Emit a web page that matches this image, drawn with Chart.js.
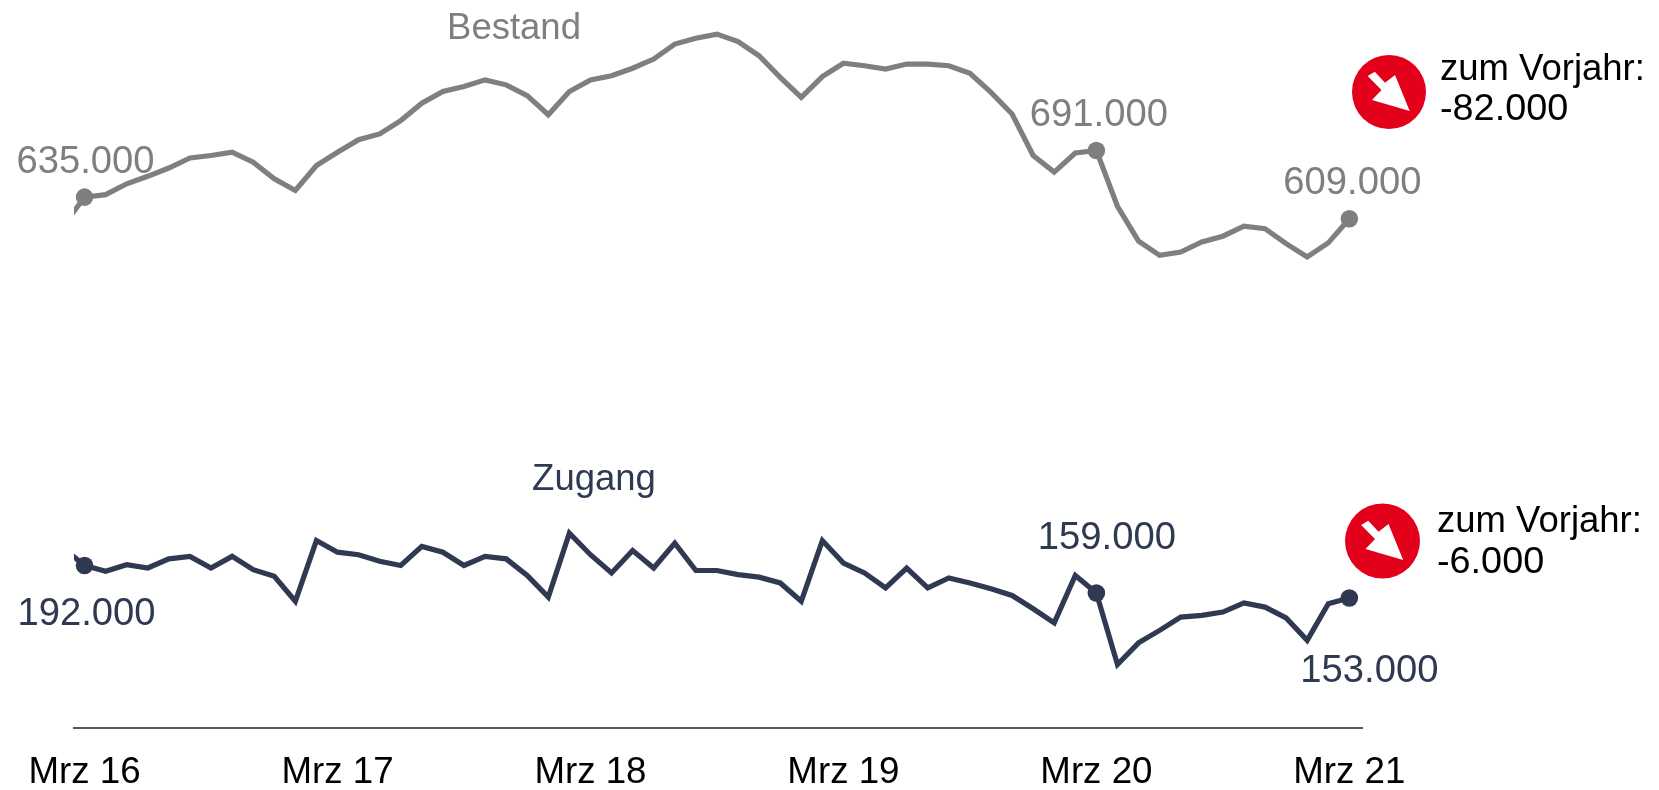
<!DOCTYPE html>
<html>
<head>
<meta charset="utf-8">
<style>
  html, body { margin: 0; padding: 0; background: #fff; }
  canvas { display: block; }
</style>
<script src="https://cdn.jsdelivr.net/npm/chart.js@4/dist/chart.umd.min.js"></script>
</head>
<body>
<canvas id="chart" width="1659" height="790"></canvas>
<script>
// values in thousands, first entry is Feb 16 (only a stub of it is visible)
const bestand = [601, 635, 638, 651, 660, 670, 682, 685, 689, 677, 657, 643, 673,
  689, 704, 711, 727, 748, 762, 768, 776, 770, 757, 734, 762, 776, 781, 790, 801,
  819, 826, 831, 822, 805, 779, 755, 780, 796, 793, 789, 795, 795, 793, 784, 761,
  735, 685, 665, 688, 691, 624, 582, 565, 569, 581, 588, 600, 597, 579, 563, 580, 609];
const zugang = [213, 192, 185, 193, 189, 200, 203, 189, 203, 187, 179, 149, 222,
  208, 205, 197, 192, 215, 208, 192, 203, 200, 180, 154, 231, 205, 183, 210, 189,
  219, 186, 186, 181, 178, 171, 149, 222, 195, 183, 165, 189, 165, 177, 171, 164,
  156, 140, 123, 180, 159, 73, 99, 114, 130, 132, 136, 147, 142, 129, 102, 146, 153];
const tickLabels = ["Mrz 16", "Mrz 17", "Mrz 18", "Mrz 19", "Mrz 20", "Mrz 21"];
const tickMonths = [0, 12, 24, 36, 48, 60];
const markedMonths = [0, 48, 60];

const GREY = "#7f7f7f";
const NAVY = "#2f3a52";
const RED = "#e2001a";
const FONT = '"Liberation Sans", Arial, sans-serif';

const toPoints = (values) => values.map((v, i) => ({ x: i - 1, y: v }));
const fmt = (v) => (v * 1000).toLocaleString("de-DE");

function lineDataset(name, values, color) {
  return {
    label: name,
    data: toPoints(values),
    borderColor: color,
    backgroundColor: color,
    borderWidth: 5.2,
    borderJoinStyle: "miter",
    tension: 0,
    clip: { left: 0, right: false, top: false, bottom: false },
    pointRadius: (c) => (markedMonths.includes(c.raw.x) ? 8.8 : 0),
    pointHoverRadius: 0,
    pointBorderWidth: 0,
  };
}

// offsets of the value labels from their point, text centre / baseline
const bestandOffsets = { 0: [1, -24], 48: [2.5, -25], 60: [3, -25] };
const zugangOffsets = { 0: [2, 59], 48: [10.5, -44], 60: [20, 84] };

function arrowBadge(ctx, cx, cy, r) {
  ctx.fillStyle = RED;
  ctx.beginPath();
  ctx.arc(cx, cy, r, 0, Math.PI * 2);
  ctx.fill();
  ctx.fillStyle = "#fff";
  ctx.beginPath();
  ctx.moveTo(cx - 21.4, cy - 16);
  ctx.lineTo(cx - 14.2, cy - 20.3);
  ctx.lineTo(cx - 4, cy - 9.3);
  ctx.lineTo(cx + 6, cy - 17);
  ctx.lineTo(cx + 20.7, cy + 19);
  ctx.lineTo(cx - 17, cy + 8);
  ctx.lineTo(cx - 7.5, cy - 2);
  ctx.closePath();
  ctx.fill();
}

const annotations = {
  id: "annotations",
  afterDatasetsDraw(chart) {
    const { ctx, scales } = chart;
    ctx.save();
    ctx.textBaseline = "alphabetic";

    function valueLabels(values, offsets, color) {
      ctx.fillStyle = color;
      ctx.font = "38.2px " + FONT;
      ctx.textAlign = "center";
      markedMonths.forEach((m) => {
        const [dx, dy] = offsets[m];
        ctx.fillText(fmt(values[m + 1]), scales.x.getPixelForValue(m) + dx, scales.y.getPixelForValue(values[m + 1]) + dy);
      });
    }
    valueLabels(bestand, bestandOffsets, GREY);
    valueLabels(zugang, zugangOffsets, NAVY);

    ctx.font = "36.5px " + FONT;
    ctx.textAlign = "center";
    ctx.fillStyle = GREY;
    ctx.fillText("Bestand", 514, 39);
    ctx.fillStyle = NAVY;
    ctx.fillText("Zugang", 594, 490);

    arrowBadge(ctx, 1389, 92, 37);
    arrowBadge(ctx, 1382.5, 541, 37.5);

    ctx.fillStyle = "#000";
    ctx.textAlign = "left";
    ctx.fillText("zum Vorjahr:", 1440, 80);
    ctx.fillText("zum Vorjahr:", 1437, 532);
    ctx.font = "37.8px " + FONT;
    ctx.fillText("-82.000", 1440, 120);
    ctx.fillText("-6.000", 1437, 573);
    ctx.restore();
  },
};

new Chart(document.getElementById("chart"), {
  type: "line",
  data: {
    datasets: [lineDataset("Bestand", bestand, GREY), lineDataset("Zugang", zugang, NAVY)],
  },
  options: {
    responsive: false,
    animation: false,
    layout: { padding: { left: 74, right: 297, top: 10, bottom: 0 } },
    plugins: { legend: { display: false }, title: { display: false }, tooltip: { enabled: false } },
    scales: {
      x: {
        type: "linear",
        min: -0.5,
        max: 60.6,
        afterBuildTicks: (scale) => {
          scale.ticks = tickMonths.map((m) => ({ value: m }));
        },
        afterFit: (scale) => {
          scale.height = 62;
        },
        grid: { display: false, drawTicks: false },
        border: { display: true, color: "#595959", width: 2 },
        ticks: {
          color: "#000",
          font: { family: FONT, size: 36.7 },
          padding: 23,
          autoSkip: false,
          maxRotation: 0,
          callback: (v) => tickLabels[tickMonths.indexOf(v)],
        },
      },
      y: { display: false, min: -3.4, max: 860 },
    },
  },
  plugins: [annotations],
});
</script>
</body>
</html>
